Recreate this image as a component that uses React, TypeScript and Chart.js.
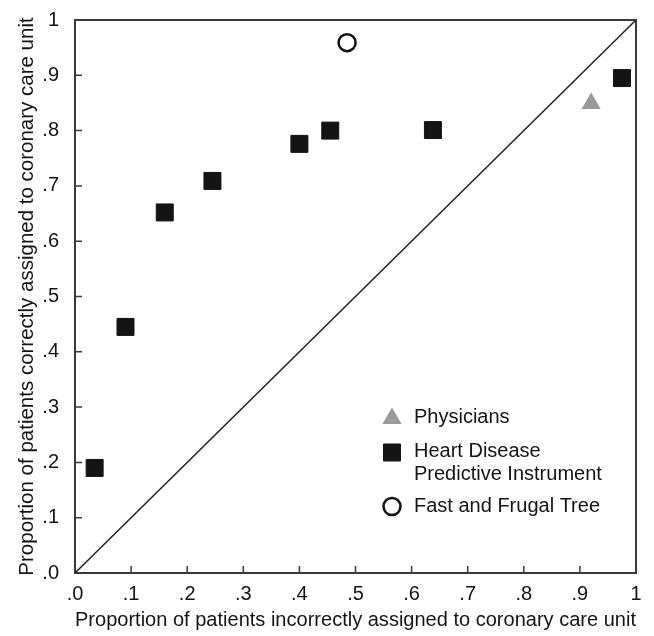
import React, { useEffect, useRef } from "react";
import { Chart, registerables } from "chart.js";

Chart.register(...registerables);

// ---- data ----
const tickValues = [0, 0.1, 0.2, 0.3, 0.4, 0.5, 0.6, 0.7, 0.8, 0.9, 1];
const tickLabels = [".0", ".1", ".2", ".3", ".4", ".5", ".6", ".7", ".8", ".9", "1"];

const hdpiX = [0.035, 0.09, 0.16, 0.245, 0.4, 0.455, 0.638, 0.975];
const hdpiY = [0.19, 0.445, 0.652, 0.709, 0.776, 0.8, 0.801, 0.895];

const physiciansX = [0.92];
const physiciansY = [0.849];

const fftX = [0.485];
const fftY = [0.959];

const diagonalX = [0, 1];
const diagonalY = [0, 1];

const seriesNames = ["Physicians", "Heart Disease\nPredictive Instrument", "Fast and Frugal Tree"];
const xTitle = "Proportion of patients incorrectly assigned to coronary care unit";
const yTitle = "Proportion of patients correctly assigned to coronary care unit";

const FONT = "'Liberation Sans', Arial, Helvetica, sans-serif";
const TEXT = "#141414";
const FRAME = "#3a3a3a";

const toPoints = (xs: number[], ys: number[]) => xs.map((x, i) => ({ x, y: ys[i] }));

function drawMarker(ctx: CanvasRenderingContext2D, style: string, x: number, y: number, r: number, fill: string, stroke: string, bw: number) {
  ctx.save();
  ctx.beginPath();
  if (style === "triangle") {
    ctx.moveTo(x, y - r);
    ctx.lineTo(x + r * Math.sin((2 * Math.PI) / 3), y - r * Math.cos((2 * Math.PI) / 3));
    ctx.lineTo(x + r * Math.sin((4 * Math.PI) / 3), y - r * Math.cos((4 * Math.PI) / 3));
    ctx.closePath();
  } else if (style === "rect") {
    const s = r * Math.SQRT1_2;
    ctx.rect(x - s, y - s, 2 * s, 2 * s);
  } else {
    ctx.arc(x, y, r, 0, Math.PI * 2);
  }
  ctx.fillStyle = fill;
  ctx.fill();
  if (bw > 0) {
    ctx.lineWidth = bw;
    ctx.strokeStyle = stroke;
    ctx.stroke();
  }
  ctx.restore();
}

const framePlugin = {
  id: "frame",
  beforeDatasetsDraw(chart: any) {
    const { ctx, chartArea, scales } = chart;
    const { left, right, top, bottom } = chartArea;
    ctx.save();
    ctx.strokeStyle = FRAME;
    ctx.lineWidth = 2;
    ctx.strokeRect(left, top, right - left, bottom - top);
    ctx.lineWidth = 1.5;
    ctx.beginPath();
    tickValues.forEach((v) => {
      const x = scales.x.getPixelForValue(v);
      ctx.moveTo(x, bottom);
      ctx.lineTo(x, bottom - 7);
      const y = scales.y.getPixelForValue(v);
      ctx.moveTo(left, y);
      ctx.lineTo(left + 7, y);
    });
    ctx.stroke();
    ctx.restore();
  },
};

const legendPlugin = {
  id: "customLegend",
  afterDatasetsDraw(chart: any) {
    const { ctx, chartArea } = chart;
    const markerX = chartArea.left + 317;
    const textX = chartArea.left + 339;
    const rowY = [chartArea.top + 397, chartArea.top + 432.5, chartArea.top + 486.5];
    const lineGap = 22.5;
    const ds = chart.data.datasets.slice(1);
    ctx.save();
    ctx.font = `20px ${FONT}`;
    ctx.fillStyle = TEXT;
    ctx.textAlign = "left";
    ctx.textBaseline = "middle";
    ds.forEach((d: any, i: number) => {
      const y = rowY[i];
      drawMarker(ctx, d.pointStyle, markerX, y + (d.pointStyle === "triangle" ? 1.5 : 0), d.pointRadius, d.backgroundColor, d.borderColor, d.borderWidth);
      const lines = seriesNames[i].split("\n");
      ctx.fillStyle = TEXT;
      lines.forEach((ln, j) => ctx.fillText(ln, textX, y - (i === 1 ? 1 : 0) + j * lineGap));
    });
    ctx.restore();
  },
};

export default function App() {
  const ref = useRef<HTMLCanvasElement | null>(null);

  useEffect(() => {
    if (!ref.current) return;
    const chart = new Chart(ref.current, {
      type: "scatter",
      data: {
        datasets: [
          {
            label: "diagonal",
            data: toPoints(diagonalX, diagonalY),
            showLine: true,
            borderColor: "#222",
            borderWidth: 1.5,
            pointRadius: 0,
            order: 10,
          } as any,
          {
            label: seriesNames[0],
            data: toPoints(physiciansX, physiciansY),
            pointStyle: "triangle",
            pointRadius: 11,
            backgroundColor: "#9a9a9a",
            borderColor: "#9a9a9a",
            borderWidth: 0,
          },
          {
            label: seriesNames[1],
            data: toPoints(hdpiX, hdpiY),
            pointStyle: "rect",
            pointRadius: 12,
            backgroundColor: "#141414",
            borderColor: "#141414",
            borderWidth: 1,
          },
          {
            label: seriesNames[2],
            data: toPoints(fftX, fftY),
            pointStyle: "circle",
            pointRadius: 8.5,
            backgroundColor: "#ffffff",
            borderColor: "#111111",
            borderWidth: 2.5,
          },
        ],
      },
      options: {
        responsive: false,
        animation: false,
        events: [],
        devicePixelRatio: 1,
        layout: { padding: { top: 16, right: 18, left: 0, bottom: 0 } },
        plugins: { legend: { display: false }, tooltip: { enabled: false }, title: { display: false } },
        scales: {
          x: {
            type: "linear",
            min: 0,
            max: 1,
            grid: { display: false },
            border: { display: false },
            ticks: {
              stepSize: 0.1,
              autoSkip: false,
              maxRotation: 0,
              padding: 1,
              color: TEXT,
              font: { family: FONT, size: 20 },
              callback: (v: any) => tickLabels[Math.round(Number(v) * 10)],
            },
            title: {
              display: true,
              text: xTitle,
              color: TEXT,
              font: { family: FONT, size: 20.5 },
              padding: { top: 0, bottom: 3 },
            },
            afterFit: (s: any) => {
              s.height = 63;
            },
          },
          y: {
            type: "linear",
            min: 0,
            max: 1,
            grid: { display: false },
            border: { display: false },
            ticks: {
              stepSize: 0.1,
              autoSkip: false,
              padding: 8,
              color: TEXT,
              font: { family: FONT, size: 20 },
              callback: (v: any) => tickLabels[Math.round(Number(v) * 10)],
            },
            title: {
              display: true,
              text: yTitle,
              color: TEXT,
              font: { family: FONT, size: 20.5 },
              padding: { top: 15, bottom: 0 },
            },
            afterFit: (s: any) => {
              s.width = 75;
            },
          },
        },
      },
      plugins: [framePlugin, legendPlugin],
    });
    return () => chart.destroy();
  }, []);

  return (
    <div style={{ position: "absolute", left: 0, top: 0, width: 654, height: 636, background: "#fff" }}>
      <canvas ref={ref} width={654} height={636} style={{ display: "block", width: 654, height: 636 }} />
    </div>
  );
}
